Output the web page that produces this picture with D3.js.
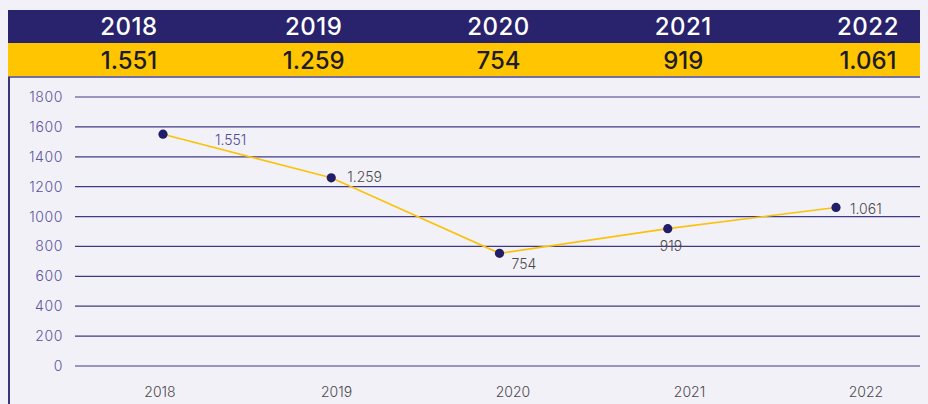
<!DOCTYPE html>
<html lang="en">

<head>
    <meta charset="UTF-8">
    <title>2018-2022</title>
    <script src="https://d3js.org/d3.v7.min.js"></script>
    <style>
        body { margin: 0; background: #f3f1f8; }
        svg { display: block; font-family: Inter, "Open Sans", sans-serif; }
    </style>
</head>

<body>
    <svg width="928" height="404"></svg>

    <script>
        const width = 928;
        const height = 404;

        // data
        const years = ["2018", "2019", "2020", "2021", "2022"];
        const values = [1551, 1259, 754, 919, 1061];
        const valueLabels = ["1.551", "1.259", "754", "919", "1.061"];
        const yTicks = [0, 200, 400, 600, 800, 1000, 1200, 1400, 1600, 1800];

        const navy = "#29226d";
        const yellow = "#ffc600";

        const svg = d3.select("svg");

        // header bands
        svg.append("rect").attr("x", 8).attr("y", 10).attr("width", 912).attr("height", 33).attr("fill", navy);
        svg.append("rect").attr("x", 8).attr("y", 43).attr("width", 912).attr("height", 33).attr("fill", yellow);
        svg.append("line").attr("x1", 8).attr("x2", 920).attr("y1", 77).attr("y2", 77)
            .attr("stroke", "#4a4584").attr("stroke-width", 1.5);
        svg.append("line").attr("x1", 9).attr("x2", 9).attr("y1", 77).attr("y2", height)
            .attr("stroke", "#3a347c").attr("stroke-width", 2);

        const xHead = d3.scalePoint().domain(years).range([129, 868]);

        svg.selectAll(".head-year").data(years).enter().append("text")
            .attr("x", d => xHead(d)).attr("y", 35)
            .attr("text-anchor", "middle").attr("fill", "#fff")
            .attr("font-size", 24).attr("font-weight", 500)
            .attr("letter-spacing", 0.5)
            .text(d => d);

        svg.selectAll(".head-val").data(valueLabels).enter().append("text")
            .attr("x", (d, i) => xHead(years[i])).attr("y", 69)
            .attr("text-anchor", "middle").attr("fill", "#1d1b2a")
            .attr("font-size", 24).attr("font-weight", 500)
            .text(d => d);

        // scales
        const x = d3.scalePoint().domain(years).range([163, 836]);
        const xAxisPos = d3.scalePoint().domain(years).range([160, 866]);
        const y = d3.scaleLinear().domain([0, 1800]).range([366, 97]);

        // grid
        svg.selectAll(".grid").data(yTicks).enter().append("line")
            .attr("x1", 75).attr("x2", 920)
            .attr("y1", d => y(d)).attr("y2", d => y(d))
            .attr("stroke", "#3f3a86").attr("stroke-width", 1.2);

        svg.selectAll(".ytick").data(yTicks).enter().append("text")
            .attr("x", 63).attr("y", d => y(d) + 5)
            .attr("text-anchor", "end").attr("fill", "#5a559e")
            .attr("font-size", 14).attr("font-weight", 300)
            .attr("letter-spacing", 0.6)
            .text(d => d);

        svg.selectAll(".xtick").data(years).enter().append("text")
            .attr("x", d => xAxisPos(d)).attr("y", 397)
            .attr("text-anchor", "middle").attr("fill", "#4a4a4a")
            .attr("font-size", 14).attr("font-weight", 300)
            .text(d => d);

        // line
        const line = d3.line().x((d, i) => x(years[i])).y(d => y(d));
        svg.append("path").datum(values)
            .attr("d", line).attr("fill", "none")
            .attr("stroke", "#fbc20a").attr("stroke-width", 1.6);

        svg.selectAll(".dot").data(values).enter().append("circle")
            .attr("cx", (d, i) => x(years[i])).attr("cy", d => y(d))
            .attr("r", 4.6).attr("fill", "#221d68");

        // data labels
        const labelDx = [52, 16, 12, -8, 14];
        const labelDy = [11, 4, 16, 22, 7];
        svg.selectAll(".dlabel").data(values).enter().append("text")
            .attr("x", (d, i) => x(years[i]) + labelDx[i])
            .attr("y", (d, i) => y(d) + labelDy[i])
            .attr("fill", (d, i) => i === 0 ? "#4f4a95" : "#4a4a4a")
            .attr("font-size", 14).attr("font-weight", 300)
            .text((d, i) => valueLabels[i]);
    </script>
</body>

</html>
